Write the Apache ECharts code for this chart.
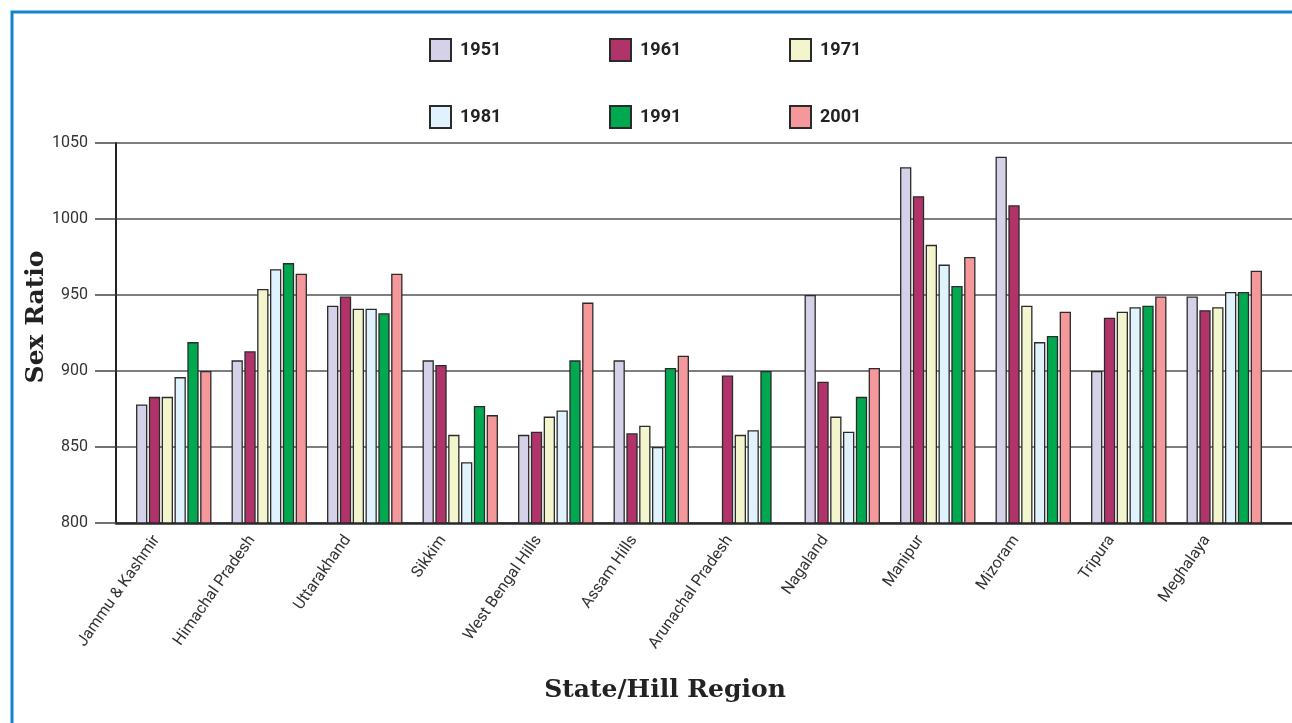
<!DOCTYPE html>
<html>
<head>
<meta charset="utf-8">
<script src="https://cdn.jsdelivr.net/npm/echarts@6/dist/echarts.min.js"></script>
<style>
html,body{margin:0;padding:0;background:#fff;}
#chart{width:1292px;height:723px;}
</style>
</head>
<body>
<div id="chart"></div>
<script>
const categories = ['Jammu & Kashmir','Himachal Pradesh','Uttarakhand','Sikkim','West Bengal Hills','Assam Hills','Arunachal Pradesh','Nagaland','Manipur','Mizoram','Tripura','Meghalaya'];
const years = ['1951','1961','1971','1981','1991','2001'];
const v1951 = [878, 907, 943, 907, 858, 907, null, 950, 1034, 1041, 900, 949];
const v1961 = [883, 913, 949, 904, 860, 859, 897, 893, 1015, 1009, 935, 940];
const v1971 = [883, 954, 941, 858, 870, 864, 858, 870, 983, 943, 939, 942];
const v1981 = [896, 967, 941, 840, 874, 850, 861, 860, 970, 919, 942, 952];
const v1991 = [919, 971, 938, 877, 907, 902, 900, 883, 956, 923, 943, 952];
const v2001 = [900, 964, 964, 871, 945, 910, null, 902, 975, 939, 949, 966];
const yMin = 800, yMax = 1050, yStep = 50;

const seriesValues = [v1951, v1961, v1971, v1981, v1991, v2001];
const colors = ['#d4d1e8', '#b0336a', '#f3f5cc', '#e0f2fc', '#00a84f', '#f4989c'];
const axisFont = 'Roboto, "Liberation Sans", sans-serif';
const legendFont = '"Liberation Sans Narrow", "Arial Narrow", Roboto, sans-serif';
const titleFont = '"DejaVu Serif", "Liberation Serif", serif';

const chart = echarts.init(document.getElementById('chart'));

const legendPos = [[429, 38], [609, 38], [789, 38], [429, 105], [609, 105], [789, 105]];
const legends = years.map((y, i) => ({
  data: [{ name: y, icon: 'rect' }],
  left: legendPos[i][0],
  top: legendPos[i][1],
  itemWidth: 21,
  itemHeight: 22,
  padding: 0,
  selectedMode: false,
  textStyle: { fontFamily: legendFont, fontWeight: 'bold', fontSize: 18, color: '#222', padding: [0, 0, 0, 4] }
}));

const option = {
  animation: false,
  backgroundColor: '#fff',
  legend: legends,
  grid: [
    { left: 126, right: 20, top: 143, bottom: 200 },
    { left: 116, right: 0, top: 143, bottom: 200 }
  ],
  xAxis: [
    {
      type: 'category', gridIndex: 0, data: categories,
      axisLine: { show: false }, axisTick: { show: false },
      axisLabel: { rotate: 55, margin: 14, padding: [0, 10, 0, 0], verticalAlign: 'bottom', lineHeight: 28, fontFamily: axisFont, fontSize: 16, color: '#333' }
    },
    {
      type: 'value', gridIndex: 1, min: 0, max: 1,
      axisLine: { show: true, lineStyle: { color: '#2a2a2a', width: 2.5 } },
      axisTick: { show: false }, axisLabel: { show: false }, splitLine: { show: false }
    }
  ],
  yAxis: [
    {
      type: 'value', gridIndex: 0, min: yMin, max: yMax, interval: yStep,
      show: false, splitLine: { show: false }
    },
    {
      type: 'value', gridIndex: 1, min: yMin, max: yMax, interval: yStep,
      axisLine: { show: true, lineStyle: { color: '#222', width: 2 } },
      axisTick: { show: true, inside: false, length: 21, lineStyle: { color: '#444', width: 1.5 } },
      axisLabel: { margin: 28, fontFamily: axisFont, fontSize: 16, color: '#333', formatter: v => String(v) },
      splitLine: { show: true, lineStyle: { color: '#555', width: 1.5 } }
    }
  ],
  graphic: [
    { type: 'rect', shape: { x: 12, y: 12, width: 1400, height: 800 }, style: { fill: 'none', stroke: '#1583c9', lineWidth: 3 }, z: 100 },
    { type: 'text', x: 36, y: 317, rotation: Math.PI / 2, style: { text: 'Sex Ratio', font: 'bold 25px ' + titleFont, fill: '#222', textAlign: 'center', textVerticalAlign: 'middle' } },
    { type: 'text', x: 665, y: 690, style: { text: 'State/Hill Region', font: 'bold 25px ' + titleFont, fill: '#222', textAlign: 'center', textVerticalAlign: 'middle' } }
  ],
  series: years.map((y, i) => ({
    name: y,
    type: 'bar',
    xAxisIndex: 0,
    yAxisIndex: 0,
    data: seriesValues[i],
    barWidth: 11.3,
    barGap: '13.5%',
    itemStyle: { color: colors[i], borderColor: '#2b2b2b', borderWidth: 1.3 },
    emphasis: { disabled: true }
  }))
};
chart.setOption(option);
</script>
</body>
</html>
